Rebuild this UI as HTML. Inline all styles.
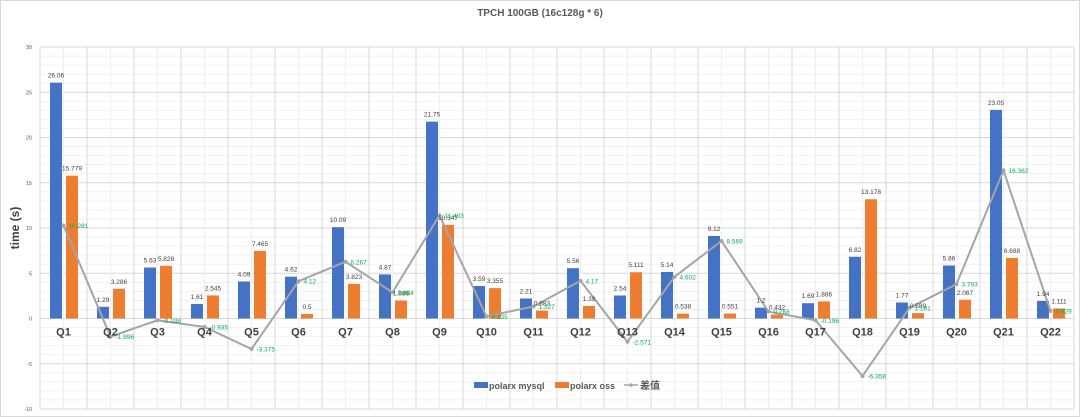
<!DOCTYPE html>
<html><head><meta charset="utf-8"><style>
body{margin:0;background:#fff;}
svg{display:block;font-family:"Liberation Sans","Noto Sans CJK SC",sans-serif;}
</style></head><body>
<svg id="chart" width="1080" height="417" viewBox="0 0 1080 417" xmlns="http://www.w3.org/2000/svg">
<rect x="0.5" y="0.5" width="1079" height="416" fill="#fff" stroke="#d9d9d9"/>
<text x="540" y="16" text-anchor="middle" font-size="10" font-weight="bold" fill="#595959">TPCH 100GB (16c128g * 6)</text>
<text transform="translate(19,228) rotate(-90)" text-anchor="middle" font-size="12" font-weight="bold" fill="#404040">time (s)</text>
<g id="grid"></g><g id="ticks"></g><g id="bars"></g><g id="line"></g><g id="labels"></g>
<g>
<rect x="474" y="382" width="14" height="6" fill="#4472c4"/>
<text x="489" y="389" font-size="9" font-weight="bold" fill="#595959">polarx mysql</text>
<rect x="555" y="382" width="14" height="6" fill="#ed7d31"/>
<text x="570" y="389" font-size="9" font-weight="bold" fill="#595959">polarx oss</text>
<line x1="624" y1="385" x2="638" y2="385" stroke="#a5a5a5" stroke-width="1.5"/>
<circle cx="631" cy="385" r="1.8" fill="#a5a5a5"/>
<text x="640" y="389" font-size="10" font-weight="bold" fill="#595959">差值</text>
</g>
</svg>
<script>
const categories=["Q1","Q2","Q3","Q4","Q5","Q6","Q7","Q8","Q9","Q10","Q11","Q12","Q13","Q14","Q15","Q16","Q17","Q18","Q19","Q20","Q21","Q22"];
const mysqlValues=[26.06,1.29,5.63,1.61,4.09,4.62,10.09,4.87,21.75,3.59,2.21,5.56,2.54,5.14,9.12,1.2,1.69,6.82,1.77,5.86,23.05,1.94];
const ossValues=[15.779,3.286,5.828,2.545,7.465,0.5,3.823,1.986,10.347,3.355,0.883,1.39,5.111,0.538,0.551,0.432,1.886,13.178,0.589,2.067,6.688,1.111];
const yTicks=[-10,-5,0,5,10,15,20,25,30];

const NS="http://www.w3.org/2000/svg";
const L=40,R=1074,T=47,B=409,yMin=-10,yMax=30;
const bw=(R-L)/categories.length;
function y(v){return T+(yMax-v)*(B-T)/(yMax-yMin);}
function xc(i){return L+bw*(i+0.5);}
function mk(tag,attrs,parent){const e=document.createElementNS(NS,tag);for(const k in attrs)e.setAttribute(k,attrs[k]);parent.appendChild(e);return e;}
const grid=document.getElementById('grid'),ticks=document.getElementById('ticks'),bars=document.getElementById('bars'),line=document.getElementById('line'),labels=document.getElementById('labels');
for(let v=yMin;v<=yMax;v++){
  const g=mk('line',{x1:L,x2:R,y1:y(v),y2:y(v),stroke:v%5===0?'#d9d9d9':'#efefef','stroke-width':v%5===0?1:0.8},grid);
  
  
}
for(let i=0;i<=categories.length*2;i++){
  const x=L+bw*i/2;
  const g=mk('line',{x1:x,x2:x,y1:T,y2:B,stroke:i%2===0?'#d9d9d9':'#efefef'},grid);
  
  
}
yTicks.forEach(v=>{
  const t=mk('text',{x:L-8,y:y(v)+2,'text-anchor':'end','font-size':'5.5',fill:'#595959'},ticks);
  t.textContent=v;
  
  
});
const diffs=mysqlValues.map((m,i)=>+(m-ossValues[i]).toFixed(3));
categories.forEach((c,i)=>{
  const cx=xc(i);
  const b1=mk('rect',{x:cx-13.5,y:y(mysqlValues[i]),width:12,height:y(0)-y(mysqlValues[i]),fill:'#4472c4'},bars);
  
  
  const b2=mk('rect',{x:cx+2.5,y:y(ossValues[i]),width:12,height:y(0)-y(ossValues[i]),fill:'#ed7d31'},bars);
  
  
  const l1=mk('text',{x:cx-7.5,y:y(mysqlValues[i])-5,'text-anchor':'middle','font-size':'6.5',fill:'#404040'},labels);
  l1.textContent=mysqlValues[i];
  
  
  const l2=mk('text',{x:cx+8.5,y:y(ossValues[i])-5,'text-anchor':'middle','font-size':'6.5',fill:'#404040'},labels);
  l2.textContent=ossValues[i];
  
  
  const cl=mk('text',{x:cx,y:y(0)+17,'text-anchor':'middle','font-size':'11','font-weight':'bold',fill:'#404040'},labels);
  cl.textContent=c;
  
  
});
const pts=diffs.map((d,i)=>xc(i)+','+y(d)).join(' ');
const pl=mk('polyline',{points:pts,fill:'none',stroke:'#a5a5a5','stroke-width':'2'},line);


diffs.forEach((d,i)=>{
  const p=mk('circle',{cx:xc(i),cy:y(d),r:2,fill:'#a5a5a5'},line);
  
  
  const t=mk('text',{x:xc(i)+5,y:y(d)+2.5,'font-size':'6.5',fill:'#00b050'},labels);
  t.textContent=d;
  
  
});
</script>
</body></html>
